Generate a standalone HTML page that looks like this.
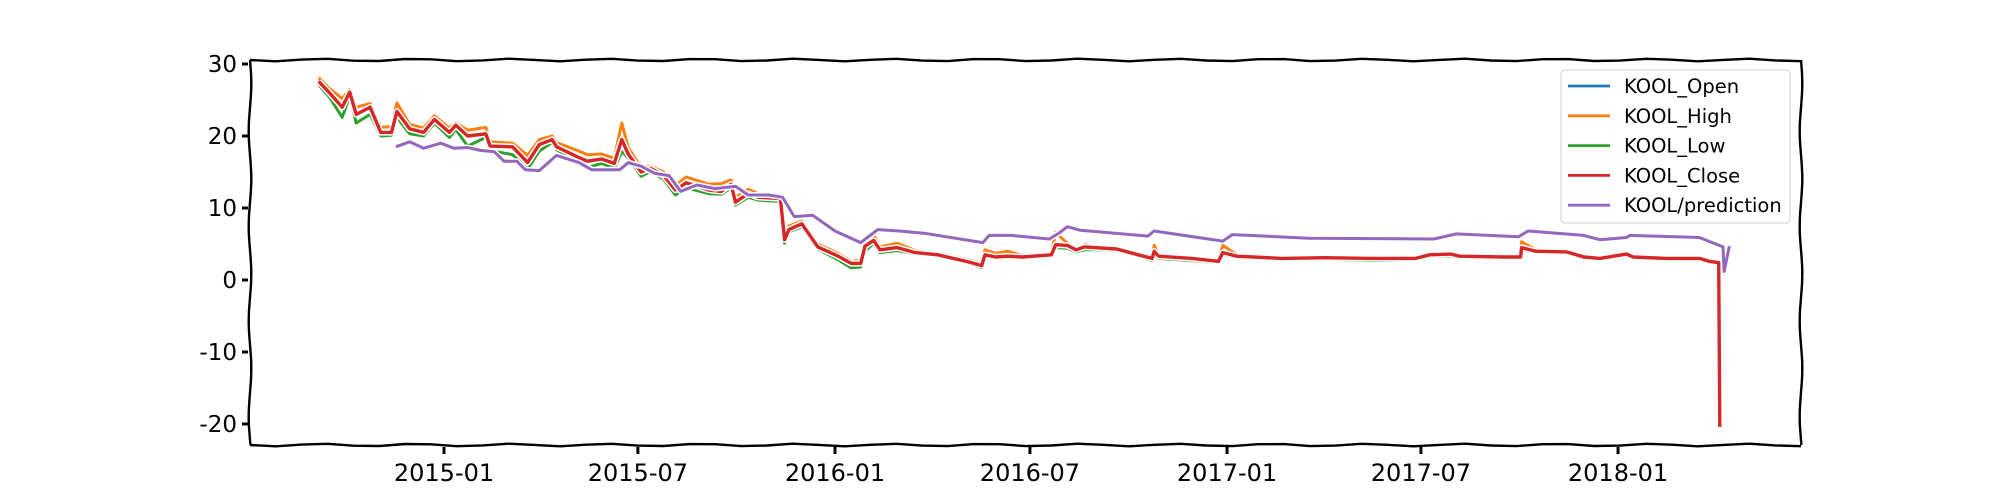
<!DOCTYPE html>
<html><head><meta charset="utf-8"><style>
html,body{margin:0;padding:0;background:#fff;}
svg{display:block;font-family:"DejaVu Sans","Liberation Sans",sans-serif;}
</style></head><body>
<svg id="chart" width="2000" height="500" viewBox="0 0 2000 500">
<g id="lines"></g>
<g id="axes"></g>
<g id="legend"></g>
</svg>
<script>
const closeDates=["2014-09-06","2014-09-16","2014-09-28","2014-10-05","2014-10-11","2014-10-24","2014-11-03","2014-11-13","2014-11-18","2014-11-30","2014-12-13","2014-12-23","2015-01-06","2015-01-12","2015-01-23","2015-02-09","2015-02-13","2015-03-06","2015-03-20","2015-03-31","2015-04-12","2015-04-16","2015-05-07","2015-05-15","2015-05-28","2015-06-09","2015-06-16","2015-06-22","2015-07-04","2015-07-13","2015-07-25","2015-08-05","2015-08-15","2015-09-05","2015-09-17","2015-09-26","2015-09-30","2015-10-12","2015-10-21","2015-11-11","2015-11-15","2015-11-19","2015-12-01","2015-12-16","2016-01-04","2016-01-16","2016-01-25","2016-01-29","2016-02-06","2016-02-12","2016-02-28","2016-03-16","2016-04-06","2016-05-05","2016-05-17","2016-05-20","2016-05-30","2016-06-10","2016-06-24","2016-07-21","2016-07-25","2016-08-05","2016-08-13","2016-08-21","2016-08-30","2016-09-20","2016-10-10","2016-10-23","2016-10-25","2016-10-29","2016-11-29","2016-12-24","2016-12-28","2017-01-10","2017-02-21","2017-04-03","2017-05-15","2017-06-26","2017-07-09","2017-07-29","2017-08-06","2017-09-17","2017-10-02","2017-10-03","2017-10-16","2017-11-14","2017-11-30","2017-12-15","2018-01-09","2018-01-15","2018-02-15","2018-03-18","2018-03-27","2018-04-05","2018-04-06"];
const closeVals=[27.6,26,24,26.1,23,24,20.5,20.5,23.4,21,20.5,22.3,20.5,21.5,20,20.3,18.6,18.5,16.3,18.8,19.5,18.5,17,16.5,16.8,16.2,19.5,17.5,15,15.5,14.5,12.5,13.5,12.5,12.3,13.3,10.8,12,11.5,11.3,5.6,7,7.8,4.6,3.3,2.3,2.3,4.7,5.5,4.2,4.5,3.8,3.5,2.5,2.0,3.5,3.2,3.3,3.2,3.5,4.9,4.8,4.2,4.6,4.5,4.3,3.5,3.0,4.0,3.3,3.0,2.6,3.8,3.3,3.0,3.1,3.0,3.0,3.5,3.6,3.3,3.2,3.2,4.5,4.0,3.9,3.2,3.0,3.6,3.2,3.0,3.0,2.6,2.4,-20.4];
const openVals=[27.8,26.3,24.5,25.8,23.5,24.2,21,20.8,23,21.3,20.8,22,20.8,21.3,20.3,20.5,18.9,18.7,16.6,18.5,19.3,18.8,17.3,16.8,17,16.5,19,17.8,15.4,15.6,14.8,12.9,13.3,12.7,12.5,13,11.2,12.1,11.6,11.4,6,7.1,7.6,4.8,3.5,2.5,2.5,4.5,5.3,4.3,4.5,3.9,3.5,2.6,2.2,3.4,3.2,3.3,3.2,3.5,4.7,4.8,4.3,4.5,4.5,4.3,3.5,3.1,3.8,3.3,3.0,2.7,3.6,3.3,3.0,3.1,3.0,3.0,3.4,3.6,3.3,3.2,3.2,4.3,4.0,3.9,3.2,3.0,3.5,3.2,3.0,3.0,2.7,2.5,1.3];
const highVals=[28.1,26.6,25.2,26.4,24,24.5,21.2,21.3,24.6,21.6,21.1,22.8,21.1,21.8,20.8,21.2,19.2,19,17.3,19.5,20,19.1,17.9,17.4,17.5,16.9,21.8,18.4,15.6,15.8,15,13.1,14.3,13.3,13.4,13.9,11.5,12.6,12,11.8,6.4,7.5,8.2,5,3.7,2.6,2.7,5.6,6.2,4.6,5.1,4.1,3.7,2.8,2.3,4.2,3.7,4.0,3.4,3.7,6.6,5.1,4.4,4.9,4.7,4.4,3.7,3.2,4.8,3.5,3.1,2.8,4.8,3.5,3.1,3.2,3.1,3.1,3.7,3.8,3.5,3.4,3.4,5.3,4.2,4.1,3.4,3.1,3.8,3.3,3.1,3.1,2.7,2.5,1.5];
const lowVals=[27.1,25.4,22.6,25.5,21.8,23,20,20.1,22.6,20.3,20,21.8,19.8,20.9,18.6,19.8,18,17.4,15.4,17.9,19.1,18.1,16.4,15.6,16.2,15.5,17.8,17,14.4,15.1,14,11.8,12.8,12,11.9,12.8,10.4,11.5,11.1,10.9,5.1,6.7,7.4,4.3,2.8,1.7,1.8,4.0,5.1,3.8,4.1,3.6,3.3,2.3,1.7,3.3,3.0,3.1,3.05,3.3,4.5,4.4,3.9,4.2,4.2,4.1,3.3,2.7,3.4,3.0,2.7,2.4,3.5,3.1,2.8,2.9,2.7,2.8,3.3,3.3,3.1,3.0,3.0,4.2,3.8,3.7,3.0,2.85,3.4,3.05,2.85,2.85,2.45,2.25,1.2];
const predDates=["2014-11-17","2014-11-30","2014-12-13","2014-12-29","2015-01-10","2015-01-23","2015-02-04","2015-02-17","2015-02-26","2015-03-10","2015-03-18","2015-03-31","2015-04-16","2015-05-07","2015-05-19","2015-06-14","2015-06-22","2015-07-04","2015-07-17","2015-07-30","2015-08-10","2015-08-25","2015-09-11","2015-09-30","2015-10-12","2015-10-31","2015-11-13","2015-11-24","2015-12-11","2016-01-01","2016-01-25","2016-02-10","2016-03-01","2016-03-24","2016-05-18","2016-05-24","2016-06-13","2016-07-19","2016-07-28","2016-08-05","2016-08-17","2016-10-19","2016-10-25","2016-12-28","2017-01-06","2017-03-18","2017-07-13","2017-08-03","2017-09-30","2017-10-09","2017-11-30","2017-12-15","2018-01-09","2018-01-12","2018-03-18","2018-04-09","2018-04-10","2018-04-15"];
const predVals=[18.5,19.2,18.3,19,18.3,18.4,18,17.8,16.5,16.5,15.3,15.2,17.3,16.3,15.3,15.3,16.3,15.8,14.8,14.5,12.3,13.2,12.7,13,11.8,11.8,11.5,8.8,9,6.8,5.2,7.0,6.8,6.5,5.2,6.2,6.2,5.7,6.5,7.4,6.9,6.1,6.8,5.4,6.3,5.8,5.7,6.4,6.0,6.8,6.2,5.6,5.9,6.2,5.9,4.6,1.2,4.7];
const yTicks=[30,20,10,0,-10,-20];
const xTickLabels=["2015-01","2015-07","2016-01","2016-07","2017-01","2017-07","2018-01"];
const seriesNames=["KOOL_Open","KOOL_High","KOOL_Low","KOOL_Close","KOOL/prediction"];

const NS="http://www.w3.org/2000/svg";
const L=250,R=1801,T=60,B=445;
const D0=Date.UTC(2015,0,1);
function dayOf(s){const p=s.split("-");return (Date.UTC(+p[0],+p[1]-1,+(p[2]||1))-D0)/86400000;}
function xs(s){return 444+dayOf(s)*1.0712;}
function ys(v){return 280-v*7.2;}
function mk(tag,attrs,parent){const e=document.createElementNS(NS,tag);for(const k in attrs)e.setAttribute(k,attrs[k]);parent.appendChild(e);return e;}
const gl=document.getElementById("lines"),ga=document.getElementById("axes"),gg=document.getElementById("legend");
const colors=["#1f77b4","#ff7f0e","#2ca02c","#d62728","#9467bd"];
const widths=[2.6,3,3,3.4,3];
function pathFor(dates,vals){return dates.map((d,i)=>(i?"L":"M")+xs(d).toFixed(1)+","+ys(vals[i]).toFixed(1)).join(" ");}
const sets=[[closeDates,openVals],[closeDates,highVals],[closeDates,lowVals],[closeDates,closeVals],[predDates,predVals]];
const names=["open-line","high-line","low-line","close-line","prediction-line"];
sets.forEach((s,i)=>{
  const d=pathFor(s[0],s[1]);
  const w=mk("path",{d:d,fill:"none",stroke:"#fff","stroke-width":widths[i]+3,"stroke-linejoin":"round"},gl);
  
  
  const p=mk("path",{d:d,fill:"none",stroke:colors[i],"stroke-width":widths[i],"stroke-linejoin":"round"},gl);
  
  
});
function wavy(x1,y1,x2,y2){let d="M"+x1+","+y1;const n=60;for(let i=1;i<=n;i++){const t=i/n;const off=1.3*Math.sin(t*Math.PI*2*(Math.abs(x2-x1)+Math.abs(y2-y1))/95);const x=x1+(x2-x1)*t,y=y1+(y2-y1)*t;d+=" L"+(x+(x1===x2?off:0)).toFixed(1)+","+(y+(y1===y2?off:0)).toFixed(1);}return d;}
[["top",L,T,R,T],["bottom",L,B,R,B],["left",L,T,L,B],["right",R,T,R,B]].forEach(s=>{
  const p=mk("path",{d:wavy(s[1],s[2],s[3],s[4]),fill:"none",stroke:"#000","stroke-width":2.4},ga);
  
  
});
yTicks.forEach(v=>{
  const y=ys(v);
  const t=mk("line",{x1:L-8,x2:L-2,y1:y,y2:y,stroke:"#000","stroke-width":3},ga);
  
  
  const tx=mk("text",{x:L-13,y:y+8,"text-anchor":"end","font-size":23,fill:"#000"},ga);
  tx.textContent=v;
  
  
});
xTickLabels.forEach(s=>{
  const x=xs(s);
  const t=mk("line",{x1:x,x2:x,y1:B+2,y2:B+9,stroke:"#000","stroke-width":3},ga);
  
  
  const tx=mk("text",{x:x,y:B+36,"text-anchor":"middle","font-size":24,fill:"#000"},ga);
  tx.textContent=s;
  
  
});
const box=mk("rect",{x:1561,y:70,width:229,height:153,rx:4,fill:"#fff","fill-opacity":0.8,stroke:"#ddd","stroke-width":1.5},gg);


seriesNames.forEach((n,i)=>{
  const y=86+i*29.8;
  const ln=mk("line",{x1:1568,x2:1610,y1:y,y2:y,stroke:colors[i],"stroke-width":2.8},gg);
  
  
  const tx=mk("text",{x:1624,y:y+7,"font-size":19.5,fill:"#000"},gg);
  tx.textContent=n;
  
  
});
</script>
</body></html>
